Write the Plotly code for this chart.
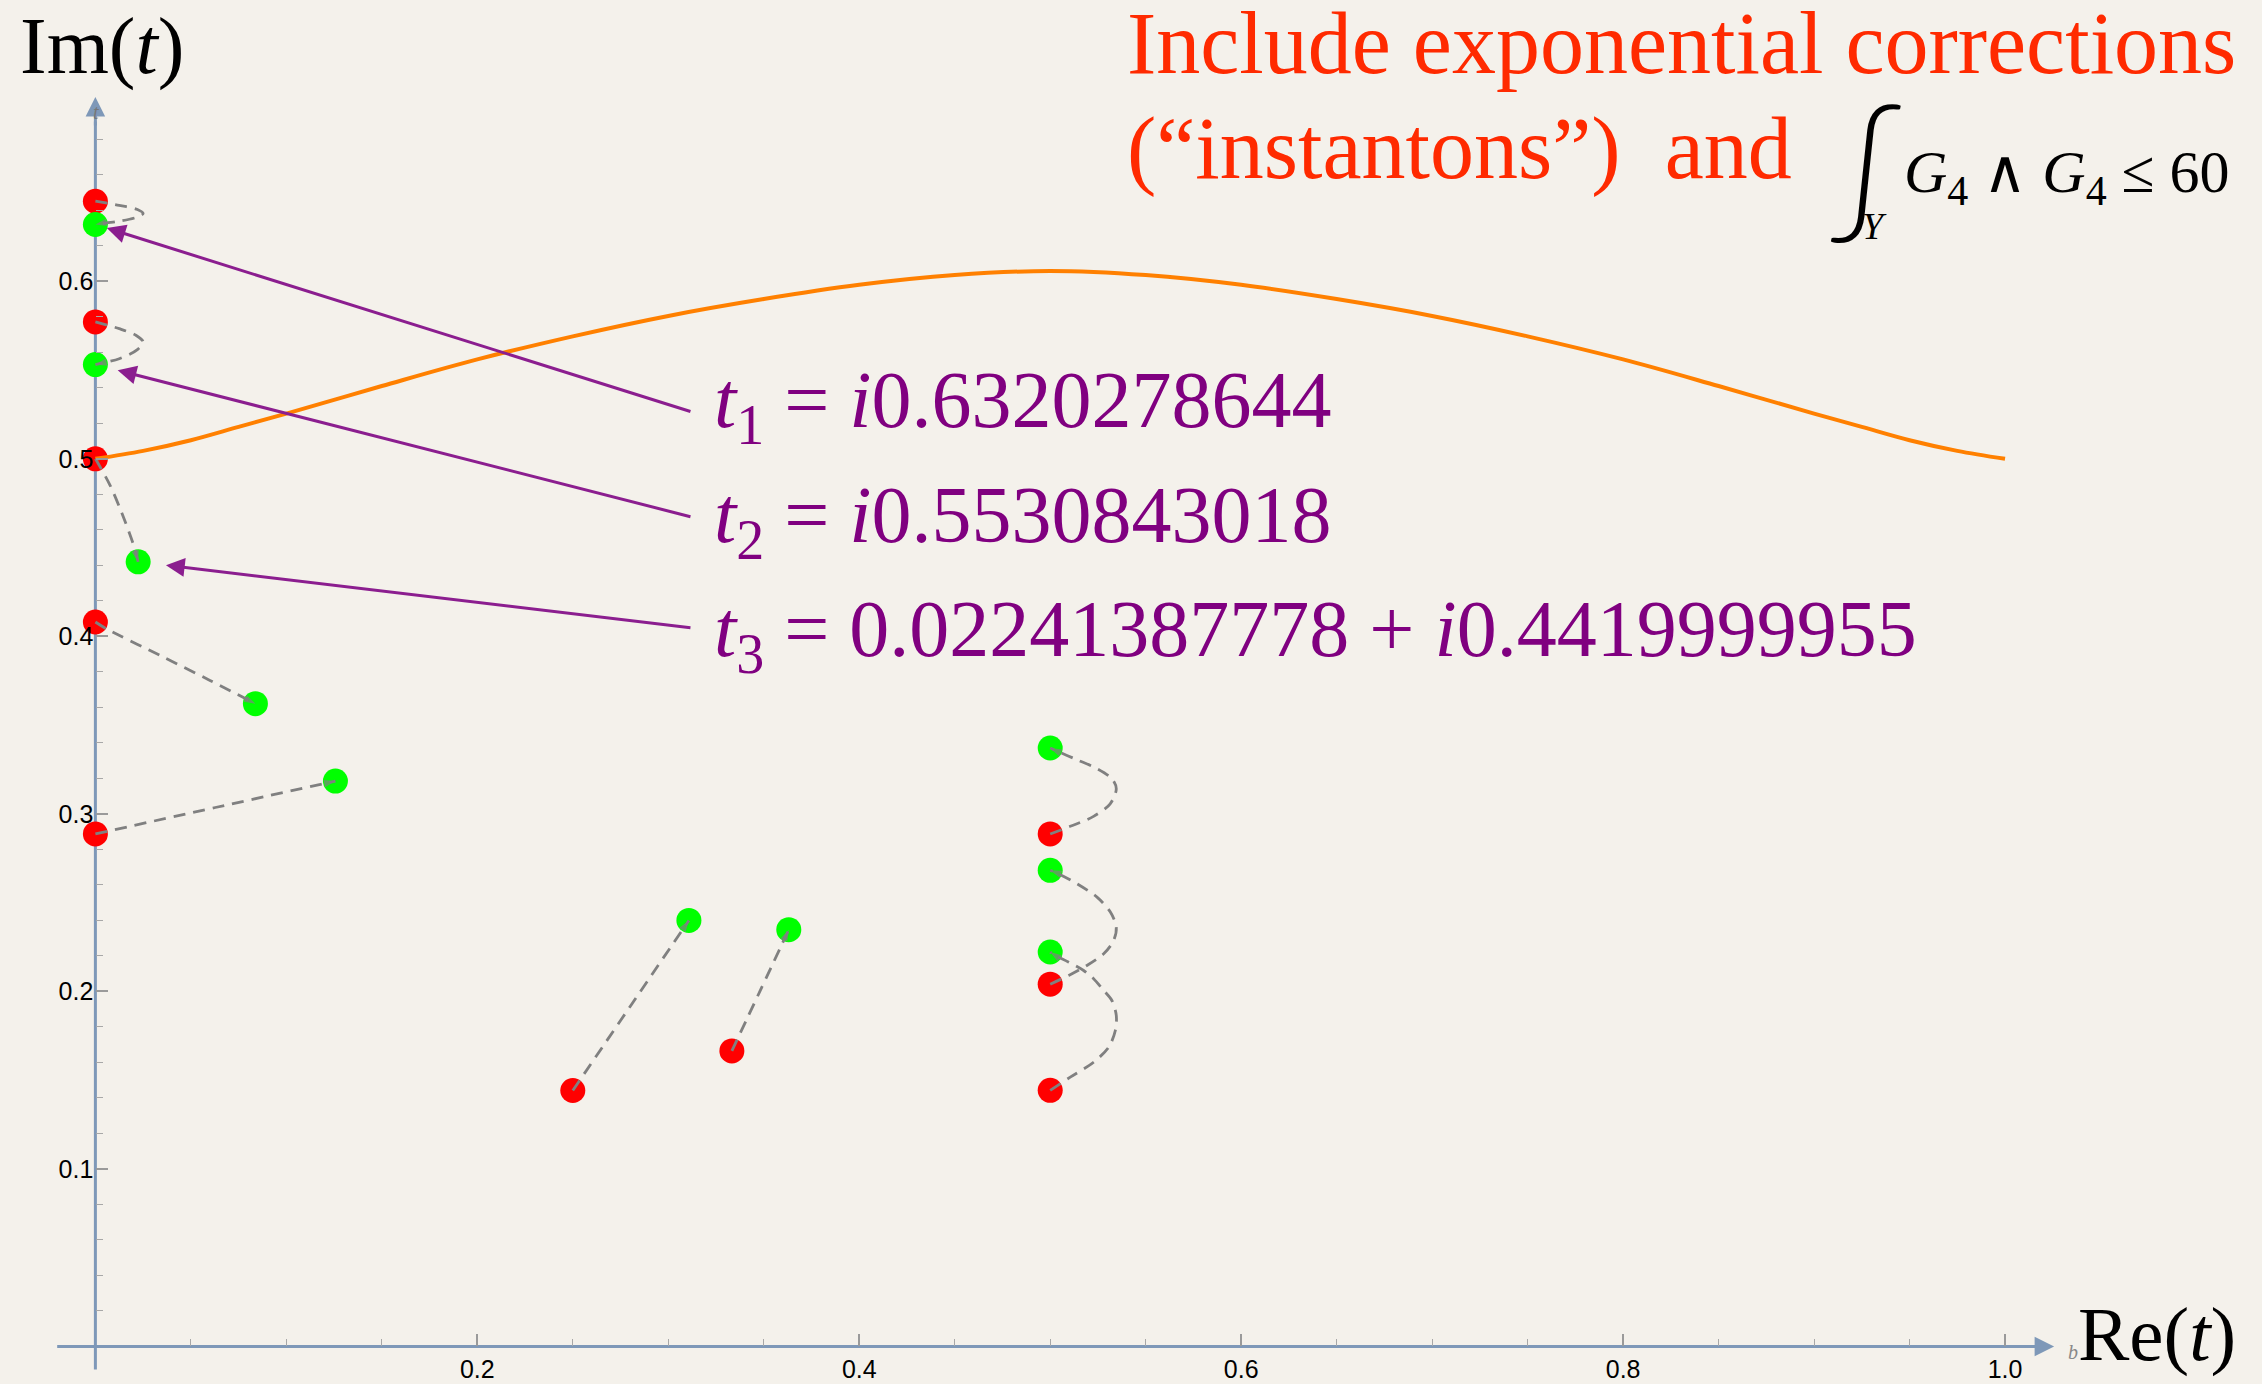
import plotly.graph_objects as go

# ---------------- data ----------------
red_x = [0.0, 0.0, 0.0, 0.0, 0.0, 0.25, 0.3333, 0.5, 0.5, 0.5]
red_y = [0.6451, 0.5771, 0.5000, 0.4081, 0.2887, 0.1442, 0.1665, 0.2887, 0.2041, 0.1443]

green_x = [0.0, 0.0, 0.0224, 0.0838, 0.1257, 0.3108, 0.3631, 0.5, 0.5, 0.5]
green_y = [0.6320, 0.5531, 0.4420, 0.3621, 0.3185, 0.2400, 0.2348, 0.3371, 0.2682, 0.2222]

# dashed flow paths (red -> green)
path1_x = [0.0, 0.0125, 0.0220, 0.0250, 0.0220, 0.0125, 0.0015, 0.0]
path1_y = [0.6451, 0.6428, 0.6404, 0.6382, 0.6362, 0.6338, 0.6323, 0.6320]
path2_x = [0.0, 0.0125, 0.0212, 0.0250, 0.0220, 0.0125, 0.0030, 0.0]
path2_y = [0.5771, 0.5733, 0.5696, 0.5658, 0.5615, 0.5564, 0.5538, 0.5531]
path3_x = [0.0, 0.0014, 0.0077, 0.0139, 0.0197, 0.0224]
path3_y = [0.5000, 0.4975, 0.4851, 0.4693, 0.4524, 0.4420]
path4_x = [0.0, 0.0059, 0.0338, 0.0600, 0.0838]
path4_y = [0.4081, 0.4042, 0.3893, 0.3752, 0.3621]
path5_x = [0.0, 0.0628, 0.1257]
path5_y = [0.2887, 0.3036, 0.3185]
path6_x = [0.25, 0.2804, 0.3108]
path6_y = [0.1442, 0.1921, 0.2400]
path7_x = [0.3333, 0.3482, 0.3631]
path7_y = [0.1665, 0.2006, 0.2348]
path8_x = [0.5, 0.5105, 0.5227, 0.5314, 0.5346, 0.5323, 0.5245, 0.5140, 0.5026, 0.5]
path8_y = [0.2887, 0.2930, 0.2986, 0.3057, 0.3142, 0.3198, 0.3255, 0.3305, 0.3358, 0.3371]
path9_x = [0.5, 0.5097, 0.5192, 0.5280, 0.5332, 0.5346, 0.5315, 0.5245, 0.5140, 0.5026, 0.5]
path9_y = [0.2041, 0.2090, 0.2146, 0.2212, 0.2287, 0.2362, 0.2447, 0.2531, 0.2607, 0.2672, 0.2682]
path10_x = [0.5, 0.5105, 0.5227, 0.5306, 0.5341, 0.5346, 0.5323, 0.5280, 0.5227, 0.5175, 0.5097, 0.5026, 0.5]
path10_y = [0.1443, 0.1517, 0.1601, 0.1686, 0.1780, 0.1865, 0.1949, 0.2006, 0.2072, 0.2118, 0.2165, 0.2203, 0.2222]

# orange boundary curve
orange_x = [0.0, 0.025, 0.05, 0.075, 0.10, 0.15, 0.20, 0.25, 0.30, 0.35, 0.40, 0.45, 0.50,
            0.55, 0.60, 0.65, 0.70, 0.75, 0.80, 0.85, 0.90, 0.925, 0.95, 0.975, 1.0]
orange_y = [0.500, 0.5045, 0.5105, 0.518, 0.5255, 0.541, 0.556, 0.569, 0.5805, 0.590, 0.598, 0.6035, 0.6058,
            0.6035, 0.598, 0.590, 0.5805, 0.569, 0.556, 0.541, 0.5255, 0.518, 0.5105, 0.5045, 0.500]

# labelled solutions (index into green arrays) and their arrow tails
label_texts = ["<i>t</i><sub>1</sub> = <i>i</i>0.6320278644",
               "<i>t</i><sub>2</sub> = <i>i</i>0.5530843018",
               "<i>t</i><sub>3</sub> = 0.02241387778 + <i>i</i>0.4419999955"]
label_targets = [0, 1, 2]
arrow_tail_x = [0.3124, 0.3124, 0.3124]
arrow_tail_y = [0.5264, 0.4672, 0.4047]

x_ticks = [0.2, 0.4, 0.6, 0.8, 1.0]
x_tick_text = ["0.2", "0.4", "0.6", "0.8", "1.0"]
y_ticks = [0.1, 0.2, 0.3, 0.4, 0.5, 0.6]
y_tick_text = ["0.1", "0.2", "0.3", "0.4", "0.5", "0.6"]

# ---------------- layout geometry ----------------
W, H = 2262, 1384
ML, MR, MT, MB = 19, 66, 15, 2
XR = [-0.04, 1.10]
YR = [-0.02, 0.75]
PW, PH = W - ML - MR, H - MT - MB


def px_x(px):
    return (px - ML) / PW


def px_y(py):
    return 1 - (py - MT) / PH


BG = "#F4F1EB"
AXC = "#7E98B8"
SERIF = "Liberation Serif, Times New Roman, serif"
SANS = "Liberation Sans, Arial, sans-serif"

x_minor = [round(0.05 * k, 2) for k in range(1, 21) if k % 4 != 0]
y_minor = [round(0.02 * k, 2) for k in range(1, 35) if k % 5 != 0]

fig = go.Figure()

# points
fig.add_trace(go.Scatter(x=red_x, y=red_y, mode="markers",
                         marker=dict(size=25, color="#FF0000", line=dict(width=0)),
                         hoverinfo="skip", cliponaxis=False))
fig.add_trace(go.Scatter(x=green_x, y=green_y, mode="markers",
                         marker=dict(size=25, color="#00FF00", line=dict(width=0)),
                         hoverinfo="skip", cliponaxis=False))

# orange curve
fig.add_trace(go.Scatter(x=orange_x, y=orange_y, mode="lines",
                         line=dict(color="#FF8000", width=4, shape="spline", smoothing=1.0),
                         hoverinfo="skip"))

paths = [(path1_x, path1_y), (path2_x, path2_y), (path3_x, path3_y), (path4_x, path4_y),
         (path5_x, path5_y), (path6_x, path6_y), (path7_x, path7_y), (path8_x, path8_y),
         (path9_x, path9_y), (path10_x, path10_y)]
for px_, py_ in paths:
    n = len(px_)
    fig.add_trace(go.Scatter(
        x=px_, y=py_, mode="lines+markers",
        line=dict(color="#808080", width=2.8, dash="12px,8px", shape="spline", smoothing=0.9),
        marker=dict(symbol="arrow", size=[0] * (n - 1) + [12], angleref="previous",
                    color="#808080", line=dict(width=0)),
        hoverinfo="skip", cliponaxis=False))

annotations = []
# purple arrows
standoffs = [12, 23, 28]
for k, idx in enumerate(label_targets):
    annotations.append(dict(
        x=green_x[idx], y=green_y[idx], xref="x", yref="y",
        ax=arrow_tail_x[k], ay=arrow_tail_y[k], axref="x", ayref="y",
        text="", showarrow=True, arrowhead=2, arrowsize=1.25, arrowwidth=3,
        arrowcolor="#8B1E8F", standoff=standoffs[k]))

# purple labels
label_centers = [406, 521, 635]
for k, txt in enumerate(label_texts):
    annotations.append(dict(
        x=px_x(712), y=px_y(label_centers[k]), xref="paper", yref="paper",
        xanchor="left", yanchor="middle", text=txt, showarrow=False,
        font=dict(family=SERIF, size=80, color="#800080")))

# axis arrowheads
annotations.append(dict(x=0, y=0.7038, xref="x", yref="y", ax=0, ay=30, text="",
                        showarrow=True, arrowhead=2, arrowsize=1.3, arrowwidth=3, arrowcolor=AXC))
annotations.append(dict(x=1.0257, y=0, xref="x", yref="y", ax=-30, ay=0, text="",
                        showarrow=True, arrowhead=2, arrowsize=1.3, arrowwidth=3, arrowcolor=AXC))

# axis titles
annotations.append(dict(x=px_x(18), y=px_y(46), xref="paper", yref="paper",
                        xanchor="left", yanchor="middle", text="Im(<i>t</i>)", showarrow=False,
                        font=dict(family=SERIF, size=80, color="black")))
annotations.append(dict(x=px_x(2076), y=px_y(1334), xref="paper", yref="paper",
                        xanchor="left", yanchor="middle", text="Re(<i>t</i>)", showarrow=False,
                        font=dict(family=SERIF, size=77, color="black")))
annotations.append(dict(x=px_x(96), y=px_y(112), xref="paper", yref="paper",
                        xanchor="center", yanchor="middle", text="<i>t</i>", showarrow=False,
                        font=dict(family=SERIF, size=20, color="#777777")))
annotations.append(dict(x=px_x(2073), y=px_y(1352), xref="paper", yref="paper",
                        xanchor="center", yanchor="middle", text="<i>b</i>", showarrow=False,
                        font=dict(family=SERIF, size=20, color="#888888")))

# top-right title
annotations.append(dict(x=px_x(1125), y=px_y(43), xref="paper", yref="paper",
                        xanchor="left", yanchor="middle",
                        text="Include exponential corrections", showarrow=False,
                        font=dict(family=SERIF, size=88, color="#FF2A00")))
annotations.append(dict(x=px_x(1125), y=px_y(148), xref="paper", yref="paper",
                        xanchor="left", yanchor="middle",
                        text="(\u201cinstantons\u201d)  and", showarrow=False,
                        font=dict(family=SERIF, size=88, color="#FF2A00")))
annotations.append(dict(x=px_x(1828), y=px_y(164), xref="paper", yref="paper",
                        xanchor="left", yanchor="middle", text="<i>\u222b</i>", showarrow=False,
                        font=dict(family="Lato, DejaVu Sans, sans-serif", size=140,
                                  weight=300, color="black")))
annotations.append(dict(x=px_x(1860), y=px_y(226), xref="paper", yref="paper",
                        xanchor="left", yanchor="middle", text="<i>Y</i>", showarrow=False,
                        font=dict(family=SERIF, size=38, color="black")))
annotations.append(dict(x=px_x(1902), y=px_y(174), xref="paper", yref="paper",
                        xanchor="left", yanchor="middle",
                        text="<i>G</i><sub>4</sub> <span style=\"font-family:Lato;font-weight:300\">\u2227</span> "
                             "<i>G</i><sub>4</sub> \u2264 60",
                        showarrow=False,
                        font=dict(family=SERIF, size=60, color="black")))

shapes = [
    dict(type="line", xref="x", yref="y", x0=-0.02, y0=0, x1=1.015, y1=0,
         line=dict(color=AXC, width=3), layer="below"),
    dict(type="line", xref="x", yref="y", x0=0, y0=-0.013, x1=0, y1=0.69,
         line=dict(color=AXC, width=3), layer="below"),
]

fig.update_layout(
    width=W, height=H,
    margin=dict(l=ML, r=MR, t=MT, b=MB, autoexpand=False),
    paper_bgcolor=BG, plot_bgcolor=BG,
    showlegend=False,
    annotations=annotations,
    shapes=shapes,
    xaxis=dict(range=XR, anchor="free", position=(0 - YR[0]) / (YR[1] - YR[0]),
               tickmode="array", tickvals=x_ticks, ticktext=x_tick_text,
               ticks="inside", ticklen=12, tickwidth=1.5, tickcolor="#9a9a9a",
               showgrid=False, zeroline=False, showline=False,
               tickfont=dict(family=SANS, size=25, color="black"),
               ticklabelstandoff=6,
               minor=dict(tickvals=x_minor, ticks="inside", ticklen=7, tickwidth=1.2,
                          tickcolor="#a8a8a8", showgrid=False),
               fixedrange=True),
    yaxis=dict(range=YR, anchor="free", position=(0 - XR[0]) / (XR[1] - XR[0]),
               tickmode="array", tickvals=y_ticks, ticktext=y_tick_text,
               ticks="inside", ticklen=12, tickwidth=1.5, tickcolor="#9a9a9a",
               showgrid=False, zeroline=False, showline=False,
               tickfont=dict(family=SANS, size=25, color="black"),
               ticklabelstandoff=2,
               minor=dict(tickvals=y_minor, ticks="inside", ticklen=7, tickwidth=1.2,
                          tickcolor="#a8a8a8", showgrid=False),
               fixedrange=True),
)

fig.write_html("out.html", config={"displayModeBar": False})
